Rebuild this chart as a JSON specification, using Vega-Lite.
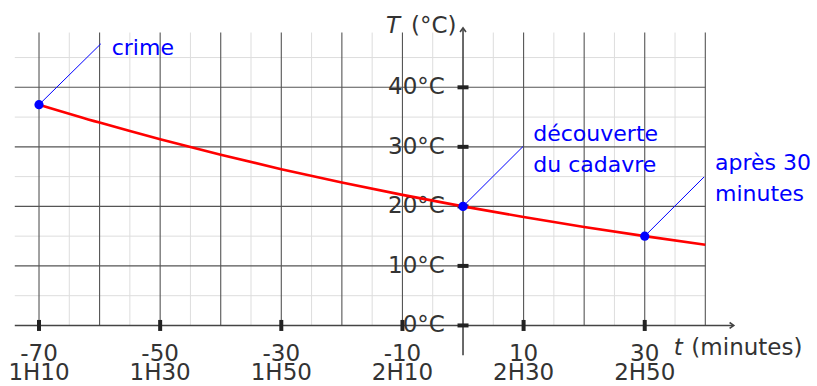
{
  "$schema": "https://vega.github.io/schema/vega-lite/v6.json",
  "width": 817,
  "height": 386,
  "autosize": {"type": "fit", "contains": "padding"},
  "padding": 0,
  "background": "white",
  "config": {"view": {"stroke": null}, "font": "DejaVu Sans"},
  "datasets": {
    "one": [{"k": 1}],
    "minorV": [{"x": -65}, {"x": -55}, {"x": -45}, {"x": -35}, {"x": -25}, {"x": -15}, {"x": -5}, {"x": 5}, {"x": 15}, {"x": 25}, {"x": 35}],
    "minorH": [{"y": 5}, {"y": 15}, {"y": 25}, {"y": 35}, {"y": 45}],
    "majorV": [{"x": -70}, {"x": -60}, {"x": -50}, {"x": -40}, {"x": -30}, {"x": -20}, {"x": -10}, {"x": 10}, {"x": 20}, {"x": 30}, {"x": 40}],
    "majorH": [{"y": 10}, {"y": 20}, {"y": 30}, {"y": 40}],
    "xticks": [
      {"x": -70, "label": "-70", "time": "1H10"},
      {"x": -50, "label": "-50", "time": "1H30"},
      {"x": -30, "label": "-30", "time": "1H50"},
      {"x": -10, "label": "-10", "time": "2H10"},
      {"x": 10, "label": "10", "time": "2H30"},
      {"x": 30, "label": "30", "time": "2H50"}
    ],
    "yticks": [
      {"y": 0, "label": "0°C"},
      {"y": 10, "label": "10°C"},
      {"y": 20, "label": "20°C"},
      {"y": 30, "label": "30°C"},
      {"y": 40, "label": "40°C"}
    ],
    "curve": [
      {"x": -70, "y": 37.08}, {"x": -60, "y": 34.07}, {"x": -50, "y": 31.27}, {"x": -40, "y": 28.67},
      {"x": -30, "y": 26.25}, {"x": -20, "y": 24.01}, {"x": -10, "y": 21.93}, {"x": 0, "y": 20.0},
      {"x": 10, "y": 18.21}, {"x": 20, "y": 16.54}, {"x": 30, "y": 15.0}, {"x": 40, "y": 13.57}
    ],
    "points": [{"x": -70, "y": 37.08}, {"x": 0, "y": 20}, {"x": 30, "y": 15}],
    "leaders": [
      {"x": -70, "y": 37.08, "x2": -59.8, "y2": 47.3},
      {"x": 0, "y": 20, "x2": 9.9, "y2": 30.05},
      {"x": 30, "y": 15, "x2": 39.8, "y2": 24.95}
    ],
    "notes": [
      {"x": -58.0, "y": 45.5, "text": "crime"},
      {"x": 11.6, "y": 31.05, "text": "découverte"},
      {"x": 11.6, "y": 25.78, "text": "du cadavre"},
      {"x": 41.6, "y": 26.17, "text": "après 30"},
      {"x": 41.6, "y": 20.88, "text": "minutes"}
    ]
  },
  "layer": [
    {
      "data": {"name": "minorV"},
      "mark": {"type": "rule", "color": "#dddddd", "strokeWidth": 1},
      "encoding": {
        "x": {"field": "x", "type": "quantitative", "scale": {"domain": [-76.44, 58.44], "nice": false, "zero": false}, "axis": null},
        "y": {"datum": 0, "type": "quantitative", "scale": {"domain": [-9.667, 54.667], "nice": false, "zero": false}, "axis": null},
        "y2": {"datum": 49.2}
      }
    },
    {
      "data": {"name": "minorH"},
      "mark": {"type": "rule", "color": "#dddddd", "strokeWidth": 1},
      "encoding": {
        "y": {"field": "y", "type": "quantitative", "scale": {"domain": [-9.667, 54.667], "nice": false, "zero": false}, "axis": null},
        "x": {"datum": -74, "type": "quantitative", "scale": {"domain": [-76.44, 58.44], "nice": false, "zero": false}, "axis": null},
        "x2": {"datum": 40}
      }
    },
    {
      "data": {"name": "majorV"},
      "mark": {"type": "rule", "color": "#555555", "strokeWidth": 1.1},
      "encoding": {
        "x": {"field": "x", "type": "quantitative", "scale": {"domain": [-76.44, 58.44], "nice": false, "zero": false}, "axis": null},
        "y": {"datum": 0, "type": "quantitative", "scale": {"domain": [-9.667, 54.667], "nice": false, "zero": false}, "axis": null},
        "y2": {"datum": 49.2}
      }
    },
    {
      "data": {"name": "majorH"},
      "mark": {"type": "rule", "color": "#555555", "strokeWidth": 1.1},
      "encoding": {
        "y": {"field": "y", "type": "quantitative", "scale": {"domain": [-9.667, 54.667], "nice": false, "zero": false}, "axis": null},
        "x": {"datum": -74, "type": "quantitative", "scale": {"domain": [-76.44, 58.44], "nice": false, "zero": false}, "axis": null},
        "x2": {"datum": 40}
      }
    },
    {
      "data": {"name": "one"},
      "mark": {"type": "rule", "color": "#444444", "strokeWidth": 1.6},
      "encoding": {
        "x": {"datum": -74, "type": "quantitative", "scale": {"domain": [-76.44, 58.44], "nice": false, "zero": false}, "axis": null},
        "x2": {"datum": 44.6},
        "y": {"datum": 0, "type": "quantitative", "scale": {"domain": [-9.667, 54.667], "nice": false, "zero": false}, "axis": null}
      }
    },
    {
      "data": {"name": "one"},
      "mark": {"type": "rule", "color": "#444444", "strokeWidth": 1.6},
      "encoding": {
        "x": {"datum": 0, "type": "quantitative", "scale": {"domain": [-76.44, 58.44], "nice": false, "zero": false}, "axis": null},
        "y": {"datum": -5, "type": "quantitative", "scale": {"domain": [-9.667, 54.667], "nice": false, "zero": false}, "axis": null},
        "y2": {"datum": 49.9}
      }
    },
    {
      "data": {"name": "one"},
      "mark": {"type": "point", "shape": "M-1,-0.7L0,0L-1,0.7", "filled": false, "stroke": "#444444", "strokeWidth": 1.6, "size": 70, "opacity": 1},
      "encoding": {
        "x": {"datum": 44.7, "type": "quantitative", "scale": {"domain": [-76.44, 58.44], "nice": false, "zero": false}, "axis": null},
        "y": {"datum": 0, "type": "quantitative", "scale": {"domain": [-9.667, 54.667], "nice": false, "zero": false}, "axis": null}
      }
    },
    {
      "data": {"name": "one"},
      "mark": {"type": "point", "shape": "M-0.7,1L0,0L0.7,1", "filled": false, "stroke": "#444444", "strokeWidth": 1.6, "size": 70, "opacity": 1},
      "encoding": {
        "x": {"datum": 0, "type": "quantitative", "scale": {"domain": [-76.44, 58.44], "nice": false, "zero": false}, "axis": null},
        "y": {"datum": 50.0, "type": "quantitative", "scale": {"domain": [-9.667, 54.667], "nice": false, "zero": false}, "axis": null}
      }
    },
    {
      "data": {"name": "xticks"},
      "mark": {"type": "tick", "orient": "vertical", "size": 11, "thickness": 4, "color": "#222222", "opacity": 1},
      "encoding": {
        "x": {"field": "x", "type": "quantitative", "scale": {"domain": [-76.44, 58.44], "nice": false, "zero": false}, "axis": null},
        "y": {"datum": 0, "type": "quantitative", "scale": {"domain": [-9.667, 54.667], "nice": false, "zero": false}, "axis": null}
      }
    },
    {
      "data": {"name": "yticks"},
      "mark": {"type": "tick", "orient": "horizontal", "size": 11, "thickness": 4, "color": "#222222", "opacity": 1},
      "encoding": {
        "y": {"field": "y", "type": "quantitative", "scale": {"domain": [-9.667, 54.667], "nice": false, "zero": false}, "axis": null},
        "x": {"datum": 0, "type": "quantitative", "scale": {"domain": [-76.44, 58.44], "nice": false, "zero": false}, "axis": null}
      }
    },
    {
      "data": {"name": "xticks"},
      "mark": {"type": "text", "fontSize": 23, "color": "#333333", "align": "center", "baseline": "alphabetic"},
      "encoding": {
        "x": {"field": "x", "type": "quantitative", "scale": {"domain": [-76.44, 58.44], "nice": false, "zero": false}, "axis": null},
        "y": {"datum": -6.0, "type": "quantitative", "scale": {"domain": [-9.667, 54.667], "nice": false, "zero": false}, "axis": null},
        "text": {"field": "label"}
      }
    },
    {
      "data": {"name": "xticks"},
      "mark": {"type": "text", "fontSize": 23, "color": "#333333", "align": "center", "baseline": "alphabetic"},
      "encoding": {
        "x": {"field": "x", "type": "quantitative", "scale": {"domain": [-76.44, 58.44], "nice": false, "zero": false}, "axis": null},
        "y": {"datum": -9.17, "type": "quantitative", "scale": {"domain": [-9.667, 54.667], "nice": false, "zero": false}, "axis": null},
        "text": {"field": "time"}
      }
    },
    {
      "data": {"name": "yticks"},
      "mark": {"type": "text", "fontSize": 23, "color": "#333333", "align": "right", "baseline": "middle"},
      "encoding": {
        "y": {"field": "y", "type": "quantitative", "scale": {"domain": [-9.667, 54.667], "nice": false, "zero": false}, "axis": null},
        "x": {"datum": -3, "type": "quantitative", "scale": {"domain": [-76.44, 58.44], "nice": false, "zero": false}, "axis": null},
        "text": {"field": "label"}
      }
    },
    {
      "data": {"name": "curve"},
      "mark": {"type": "line", "color": "#ff0000", "strokeWidth": 2.6, "interpolate": "monotone"},
      "encoding": {
        "x": {"field": "x", "type": "quantitative", "scale": {"domain": [-76.44, 58.44], "nice": false, "zero": false}, "axis": null},
        "y": {"field": "y", "type": "quantitative", "scale": {"domain": [-9.667, 54.667], "nice": false, "zero": false}, "axis": null}
      }
    },
    {
      "data": {"name": "leaders"},
      "mark": {"type": "rule", "color": "#0000ff", "strokeWidth": 1},
      "encoding": {
        "x": {"field": "x", "type": "quantitative", "scale": {"domain": [-76.44, 58.44], "nice": false, "zero": false}, "axis": null},
        "y": {"field": "y", "type": "quantitative", "scale": {"domain": [-9.667, 54.667], "nice": false, "zero": false}, "axis": null},
        "x2": {"field": "x2"},
        "y2": {"field": "y2"}
      }
    },
    {
      "data": {"name": "points"},
      "mark": {"type": "circle", "color": "#0000ff", "size": 85, "opacity": 1},
      "encoding": {
        "x": {"field": "x", "type": "quantitative", "scale": {"domain": [-76.44, 58.44], "nice": false, "zero": false}, "axis": null},
        "y": {"field": "y", "type": "quantitative", "scale": {"domain": [-9.667, 54.667], "nice": false, "zero": false}, "axis": null}
      }
    },
    {
      "data": {"name": "notes"},
      "mark": {"type": "text", "fontSize": 22, "color": "#0000ff", "align": "left", "baseline": "alphabetic"},
      "encoding": {
        "x": {"field": "x", "type": "quantitative", "scale": {"domain": [-76.44, 58.44], "nice": false, "zero": false}, "axis": null},
        "y": {"field": "y", "type": "quantitative", "scale": {"domain": [-9.667, 54.667], "nice": false, "zero": false}, "axis": null},
        "text": {"field": "text"}
      }
    },
    {
      "data": {"name": "one"},
      "mark": {"type": "text", "fontSize": 23, "fontStyle": "italic", "color": "#333333", "align": "left", "baseline": "alphabetic", "text": "T"},
      "encoding": {
        "x": {"datum": -12.7, "type": "quantitative", "scale": {"domain": [-76.44, 58.44], "nice": false, "zero": false}, "axis": null},
        "y": {"datum": 49.1, "type": "quantitative", "scale": {"domain": [-9.667, 54.667], "nice": false, "zero": false}, "axis": null}
      }
    },
    {
      "data": {"name": "one"},
      "mark": {"type": "text", "fontSize": 23, "color": "#333333", "align": "left", "baseline": "alphabetic", "text": "(°C)"},
      "encoding": {
        "x": {"datum": -8.6, "type": "quantitative", "scale": {"domain": [-76.44, 58.44], "nice": false, "zero": false}, "axis": null},
        "y": {"datum": 49.1, "type": "quantitative", "scale": {"domain": [-9.667, 54.667], "nice": false, "zero": false}, "axis": null}
      }
    },
    {
      "data": {"name": "one"},
      "mark": {"type": "text", "fontSize": 23, "fontStyle": "italic", "color": "#333333", "align": "left", "baseline": "alphabetic", "text": "t"},
      "encoding": {
        "x": {"datum": 34.8, "type": "quantitative", "scale": {"domain": [-76.44, 58.44], "nice": false, "zero": false}, "axis": null},
        "y": {"datum": -5.0, "type": "quantitative", "scale": {"domain": [-9.667, 54.667], "nice": false, "zero": false}, "axis": null}
      }
    },
    {
      "data": {"name": "one"},
      "mark": {"type": "text", "fontSize": 23, "color": "#333333", "align": "left", "baseline": "alphabetic", "text": "(minutes)"},
      "encoding": {
        "x": {"datum": 37.7, "type": "quantitative", "scale": {"domain": [-76.44, 58.44], "nice": false, "zero": false}, "axis": null},
        "y": {"datum": -5.0, "type": "quantitative", "scale": {"domain": [-9.667, 54.667], "nice": false, "zero": false}, "axis": null}
      }
    }
  ]
}
